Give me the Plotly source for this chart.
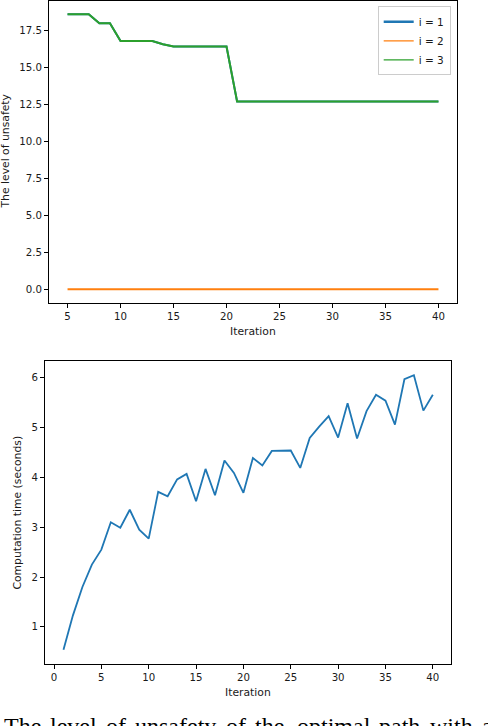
import plotly.graph_objects as go

# ---- Top chart data: level of unsafety ----
iter_top = list(range(5, 41))
unsafety_i1 = [18.63, 18.63, 18.63, 18.02, 18.02, 16.82, 16.82, 16.82, 16.82, 16.60,
               16.44, 16.44, 16.44, 16.44, 16.44, 16.44] + [12.72] * 20
unsafety_i2 = [0.0] * 36
unsafety_i3 = [18.63, 18.63, 18.63, 18.02, 18.02, 16.82, 16.82, 16.82, 16.82, 16.60,
               16.44, 16.44, 16.44, 16.44, 16.44, 16.44] + [12.72] * 20
series_names = ["i = 1", "i = 2", "i = 3"]

# ---- Bottom chart data: computation time ----
iter_bot = list(range(1, 41))
comp_time = [0.54, 1.23, 1.80, 2.25, 2.55, 3.10, 2.99, 3.35, 2.95, 2.77,
             3.71, 3.62, 3.96, 4.07, 3.52, 4.17, 3.64, 4.34, 4.09, 3.69,
             4.39, 4.24, 4.53, 4.53, 4.54, 4.19, 4.79, 5.02, 5.23, 4.80,
             5.49, 4.78, 5.33, 5.66, 5.54, 5.06, 5.97, 6.05, 5.34, 5.66]

caption_words = ["The", "level", "of", "unsafety", "of", "the", "optimal", "path", "with", "a"]

W, H = 488, 726
BLUE, ORANGE, GREEN = "#1f77b4", "#ff7f0e", "#2ca02c"
FONT = "DejaVu Sans"
TXT = "#1a1a1a"

def px_x(p):
    return p / W

def px_y(p):
    return 1 - p / H

fig = go.Figure()

# top chart traces
fig.add_trace(go.Scatter(x=iter_top, y=unsafety_i1, mode="lines", line=dict(color=BLUE, width=2),
                         showlegend=False, xaxis="x", yaxis="y"))
fig.add_trace(go.Scatter(x=iter_top, y=unsafety_i2, mode="lines", line=dict(color=ORANGE, width=2),
                         showlegend=False, xaxis="x", yaxis="y"))
fig.add_trace(go.Scatter(x=iter_top, y=unsafety_i3, mode="lines", line=dict(color=GREEN, width=2),
                         showlegend=False, xaxis="x", yaxis="y"))
# legend entries
for name, col, w in zip(series_names, [BLUE, ORANGE, GREEN], [2.4, 1.2, 1.2]):
    fig.add_trace(go.Scatter(x=[None], y=[None], mode="lines", name=name,
                             line=dict(color=col, width=w), xaxis="x", yaxis="y"))

# bottom chart
fig.add_trace(go.Scatter(x=iter_bot, y=comp_time, mode="lines", line=dict(color=BLUE, width=1.8),
                         showlegend=False, xaxis="x2", yaxis="y2"))

axis_common = dict(showline=True, linecolor="black", linewidth=1, mirror=True,
                   ticks="outside", ticklen=4, tickwidth=1, tickcolor="black",
                   showgrid=False, zeroline=False,
                   tickfont=dict(family=FONT, size=10.2, color=TXT))

fig.update_layout(
    width=W, height=H,
    margin=dict(l=0, r=0, t=0, b=0),
    paper_bgcolor="white", plot_bgcolor="white",
    xaxis=dict(domain=[px_x(49), px_x(457)], range=[3.25, 41.75],
               tickvals=[5, 10, 15, 20, 25, 30, 35, 40], anchor="y", **axis_common),
    yaxis=dict(domain=[px_y(303), px_y(0.5)], range=[-0.93, 19.56],
               tickvals=[0, 2.5, 5, 7.5, 10, 12.5, 15, 17.5], tickformat=".1f",
               anchor="x", **axis_common),
    xaxis2=dict(domain=[px_x(45), px_x(451.3)], range=[-0.95, 41.95],
                tickvals=[0, 5, 10, 15, 20, 25, 30, 35, 40], anchor="y2", **axis_common),
    yaxis2=dict(domain=[px_y(664), px_y(361.3)], range=[0.254, 6.33],
                tickvals=[1, 2, 3, 4, 5, 6], anchor="x2", **axis_common),
    legend=dict(x=px_x(450.7), y=px_y(6.3), xanchor="right", yanchor="top",
                bgcolor="rgba(255,255,255,0.8)", bordercolor="#cccccc", borderwidth=1,
                font=dict(family=FONT, size=10.5, color=TXT), tracegroupgap=0,
                itemwidth=30),
    showlegend=True,
)

annots = [
    dict(text="Iteration", x=px_x(253), y=px_y(331), xanchor="center", yanchor="middle"),
    dict(text="The level of unsafety", x=px_x(5.5), y=px_y(151), textangle=-90,
         xanchor="center", yanchor="middle"),
    dict(text="Iteration", x=px_x(248), y=px_y(692), xanchor="center", yanchor="middle"),
    dict(text="Computation time (seconds)", x=px_x(18), y=px_y(512.6), textangle=-90,
         xanchor="center", yanchor="middle"),
]
for a in annots:
    fig.add_annotation(xref="paper", yref="paper", showarrow=False,
                       font=dict(family=FONT, size=10.8, color=TXT), **a)

word_x = [2, 48, 104, 133, 224, 253, 295, 377, 428, 480]
for wtxt, wx in zip(caption_words, word_x):
    fig.add_annotation(xref="paper", yref="paper", showarrow=False, text=wtxt,
                       x=px_x(wx), y=px_y(711), xanchor="left", yanchor="top",
                       font=dict(family="Liberation Serif", size=24, color="black"))

fig.write_html("out.html", config={"displayModeBar": False},
               post_script="document.body.style.margin='0';document.body.style.overflow='hidden';")
